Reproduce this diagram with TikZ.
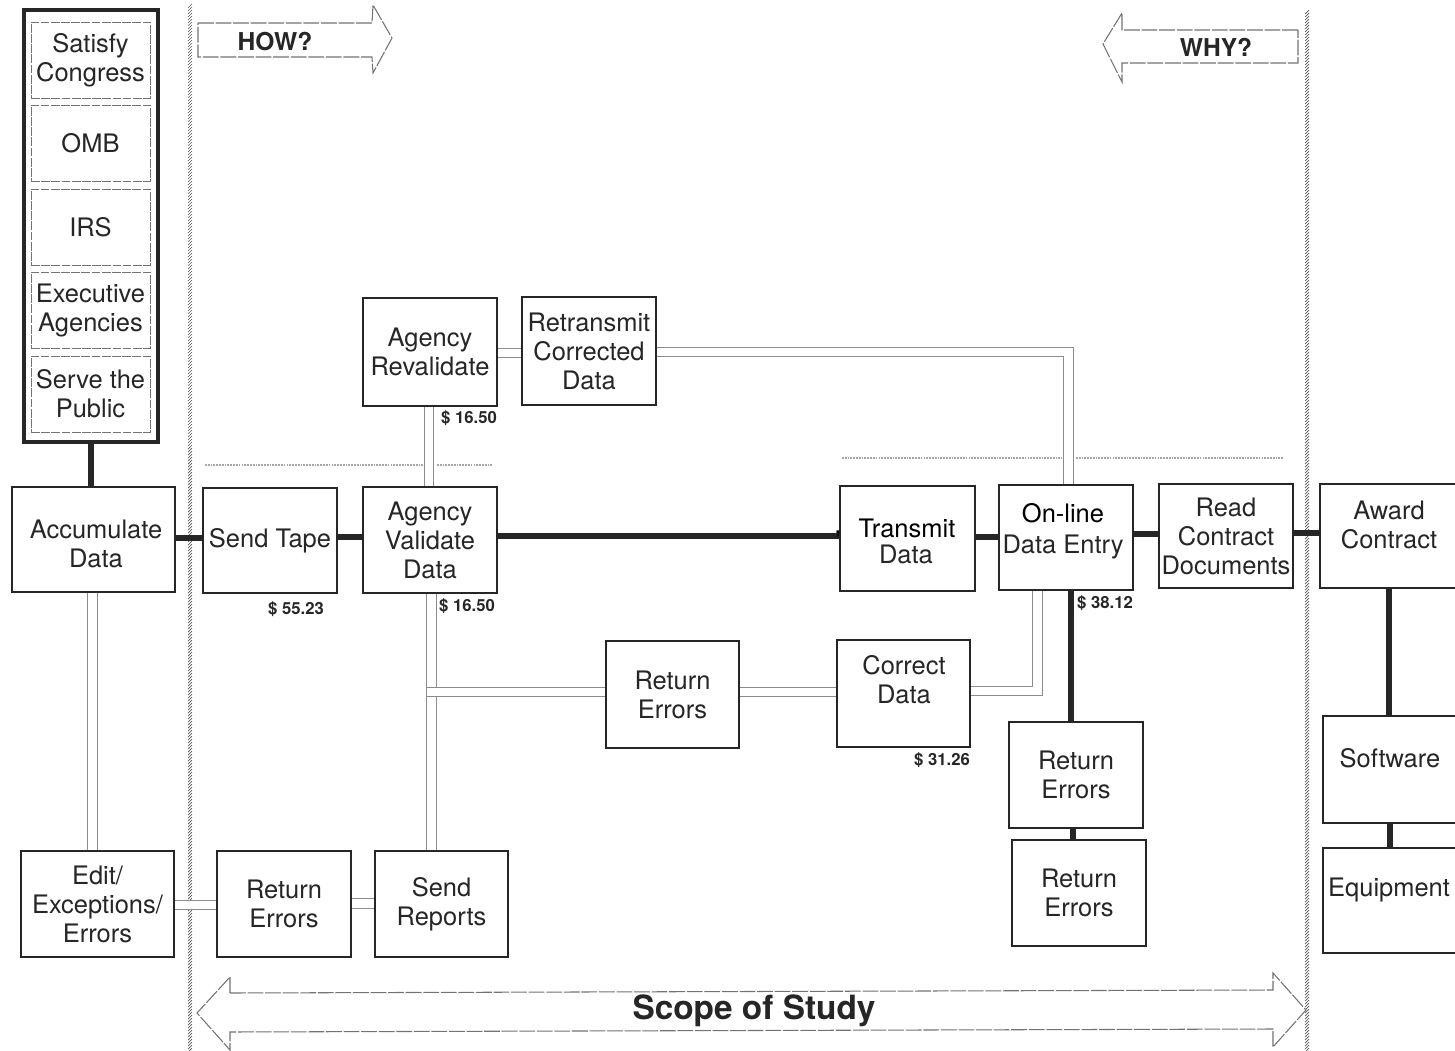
\documentclass[tikz,border=0pt]{standalone}
\usepackage{fontspec}
\setmainfont{TeX Gyre Heros}
% process box from corner (x1,y1) to (x2,y2), picture units
\newcommand\pbox[7][]{%
  \node[box,minimum width={(#5-#3)*0.02cm},minimum height={(#6-#4)*0.02cm},#1]
    (#2) at ({(#3+#5)/2},{(#4+#6)/2}) {#7};}
\begin{document}
\begin{tikzpicture}[x=0.02cm,y=-0.02cm,
  box/.style={draw=black!85, line width=1.1pt, fill=white, inner sep=0pt,
    align=center, text=black!85, font=\fontsize{14.5}{16.5}\selectfont},
  goalbox/.style={box, draw=black!55, line width=0.5pt, dash pattern=on 5pt off 0.8pt},
  txt/.style={inner sep=0pt, align=center, text=black!85, font=\fontsize{14.5}{16.5}\selectfont},
  cost/.style={inner sep=0pt, text=black!85, font=\bfseries\fontsize{9.5}{10}\selectfont},
  thickline/.style={line width=3.9pt, draw=black!85},
  dline/.style={draw=black!45, line width=0.5pt, double=white, double distance=4.8pt},
  faint/.style={draw=black!35, line width=0.8pt, dash pattern=on 1pt off 0.6pt},
  hatch/.style={draw=black!65, line width=0.4pt},
  blockarrow/.style={draw=black!55, line width=0.6pt, dash pattern=on 9pt off 1pt, line join=miter},
  bigword/.style={inner sep=0pt, text=black!85, font=\bfseries\fontsize{14}{15}\selectfont}
]
\useasboundingbox (0,0) rectangle (1455,1051);
\clip (0,0) rectangle (1455,1051);
\fill[white] (0,0) rectangle (1455,1051);

% scope boundaries (hatched strips)
\foreach \yy in {6,9,...,1054} \draw[hatch] (188,\yy+2) -- (192,\yy-2);
\foreach \yy in {12,15,...,1054} \draw[hatch] (1305,\yy+2) -- (1309,\yy-2);

% HOW? / WHY? block arrows
\draw[blockarrow] (198,23) -- (372,23) -- (373,5) -- (392,38) -- (373,73) -- (372,57) -- (198,57) -- cycle;
\node[bigword] (how) at (275,41) {HOW?};
\draw[blockarrow] (1298,30) -- (1122,30) -- (1122,13) -- (1103,44) -- (1122,82) -- (1122,63) -- (1298,63) -- cycle;
\node[bigword] (why) at (1216,47) {WHY?};

% scope of study double arrow
\draw[blockarrow] (230,993) -- (1273,990) -- (1273,973) -- (1306,1010) -- (1273,1047) -- (1273,1029)
  -- (230,1032) -- (230,1050) -- (197,1013) -- (230,977) -- cycle;
\node[inner sep=0pt, text=black!85, font=\bfseries\fontsize{19}{20}\selectfont] (scope) at (754,1011) {Scope of Study};

% faint dotted guide lines
\draw[faint] (205,465) -- (424,465);
\draw[faint] (437,465) -- (493,465);
\draw[faint] (842,458) -- (1062,458);
\draw[faint] (1076,458) -- (1284,458);

% goals column
\pbox[line width=2pt]{goals}{24}{10}{158}{442}{}
\pbox[goalbox]{g1}{31}{22}{150}{98}{Satisfy\\Congress}
\pbox[goalbox]{g2}{31}{105}{150}{181}{OMB}
\pbox[goalbox]{g3}{31}{189}{150}{265}{IRS}
\pbox[goalbox]{g4}{31}{272}{150}{348}{Executive\\Agencies}
\pbox[goalbox]{g5}{31}{356}{150}{432}{Serve the\\Public}

% process boxes
\pbox{acc}{12}{487}{175}{592}{}
\node[txt] (acct) at (96,544) {Accumulate\\Data};
\pbox{tape}{203}{488}{337}{593}{Send Tape}
\pbox{aval}{363}{487}{497}{593}{Agency\\Validate\\Data}
\pbox{arev}{363}{298}{497}{406}{Agency\\Revalidate}
\pbox{retr}{522}{297}{656}{405}{Retransmit\\Corrected\\Data}
\pbox{tdata}{840}{486}{975}{591}{}
\node[txt, text=black] (tdt1) at (907,528) {Transmit};
\node[txt] (tdt2) at (906,554) {Data};
\pbox{online}{999}{485}{1133}{590}{}
\node[txt, text=black] (ont1) at (1063,513) {On-line};
\node[txt] (ont2) at (1063,547) {Data Entry};
\pbox{read}{1159}{484}{1293}{588}{Read\\Contract\\Documents}
\pbox{award}{1320}{484}{1458}{588}{}
\node[txt] (awt) at (1389,525) {Award\\Contract};
\pbox{soft}{1323}{716}{1458}{823}{}
\node[txt] (sft) at (1390,758) {Software};
\pbox{equip}{1323}{848}{1458}{953}{}
\node[txt] (eqt) at (1389,890) {Equipment};
\pbox{retm}{606}{641}{739}{748}{Return\\Errors}
\pbox{cor}{837}{640}{970}{747}{}
\node[txt] (cort) at (904,680) {Correct\\Data};
\pbox{rer1}{1009}{722}{1143}{828}{Return\\Errors}
\pbox{rer2}{1012}{840}{1146}{946}{Return\\Errors}
\pbox{edit}{21}{851}{174}{957}{Edit/\\Exceptions/\\Errors}
\pbox{retb}{217}{851}{351}{957}{Return\\Errors}
\pbox{rep}{375}{851}{508}{957}{Send\\Reports}

% main flow (heavy connectors)
\draw[thickline] (goals.south -| 91,0) -- (acc.north -| 91,0);
\draw[thickline] (acc.east |- 0,538) -- (tape.west |- 0,538);
\draw[thickline] (tape.east |- 0,537) -- (aval.west |- 0,537);
\draw[thickline] (aval.east |- 0,536) -- (tdata.west |- 0,536);
\draw[thickline] (tdata.east |- 0,537) -- (online.west |- 0,537);
\draw[thickline] (online.east |- 0,534) -- (read.west |- 0,534);
\draw[thickline] (read.east |- 0,533) -- (award.west |- 0,533);
\draw[thickline] (award.south -| 1389,0) -- (soft.north -| 1389,0);
\draw[thickline] (soft.south -| 1390,0) -- (equip.north -| 1390,0);
\draw[thickline] (online.south -| 1071,0) -- (rer1.north -| 1071,0);
\draw[thickline] (rer1.south -| 1073,0) -- (rer2.north -| 1073,0);
\node[txt, text=black] (comma) at (838,534) {,};

% error loops (double connectors)
\draw[dline] (acc.south -| 92.5,0) -- (edit.north -| 92.5,0);
\draw[dline] (edit.east |- 0,905) -- (retb.west |- 0,905);
\draw[dline] (retb.east |- 0,903.5) -- (rep.west |- 0,903.5);
\draw[dline] (aval.south -| 431.5,0) -- (rep.north -| 431.5,0);
\draw[dline] (arev.south -| 429,0) -- (aval.north -| 429,0);
\coordinate (tee) at (427,692);
\draw[dline] (tee) -- (retm.west |- 0,692);
\draw[dline] (retm.east |- 0,692) -- (cor.west |- 0,692);
\draw[dline] (cor.east |- 0,691) -| (online.south -| 1037.5,0);
\draw[dline] (arev.east |- 0,353) -- (retr.west |- 0,353);
\draw[dline] (retr.east |- 0,352) -| (online.north -| 1068.5,0);

% unit costs
\node[cost] (c1) at (469,418) {\$ 16.50};
\node[cost] (c2) at (296,609) {\$ 55.23};
\node[cost] (c3) at (467,606) {\$ 16.50};
\node[cost] (c4) at (1105,603) {\$ 38.12};
\node[cost] (c5) at (942,760) {\$ 31.26};
\end{tikzpicture}
\end{document}
